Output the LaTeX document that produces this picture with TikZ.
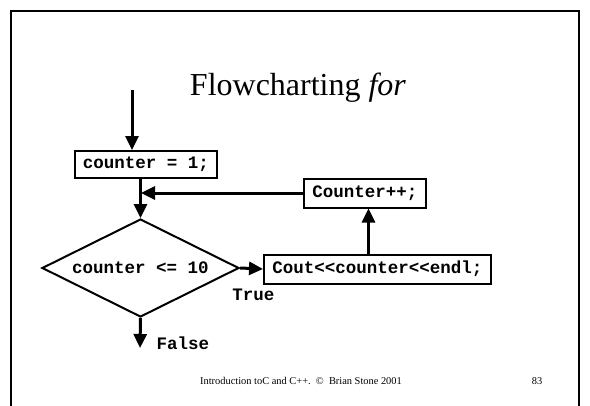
\documentclass[tikz,border=0pt]{standalone}
\usepackage{fontspec}
\setmainfont{Liberation Serif}
\newfontfamily\codefont{Liberation Mono}
\usetikzlibrary{arrows.meta,shapes.geometric}
\tikzset{
  codetext/.style={font=\codefont\bfseries\fontsize{17.5}{20}\selectfont},
  stmt/.style={draw, line width=2pt, codetext, inner sep=0pt, minimum height=29pt},
  decision/.style={diamond, draw, line width=2pt, codetext, inner sep=0pt,
    aspect=2, minimum width=197pt, minimum height=98pt},
  flow/.style={line width=3pt, -{Triangle[length=14pt,width=13pt]}},
  frameline/.style={line width=2pt},
}
\begin{document}
\begin{tikzpicture}[x=1pt,y=-1pt]
  \useasboundingbox (0,0) rectangle (590,405);
  % slide frame
  \draw[frameline] (11,406) -- (11,11) -- (579,11) -- (579,406);

  % title
  \node (title) at (298,88) {\fontsize{32}{36}\selectfont Flowcharting \textit{for}};

  % flowchart elements
  \node[stmt, minimum width=142pt, minimum height=27pt] (init) at (146,164.5) {counter = 1;};
  \node[decision] (test) at (140.5,268) {counter <= 10};
  \node[stmt, minimum width=227pt] (body) at (377.5,269) {Cout<<counter<<endl;};
  \node[stmt, minimum width=122pt] (incr) at (365,193) {Counter++;};

  \coordinate (start) at (132,90);
  \coordinate (join) at (141,193);
  \coordinate (exit) at (140,348);

  % connectors
  \draw[flow] (start) -- (start |- init.north);
  \draw[flow] (init.south -| test.north) -- (test.north);
  \draw[flow] (incr.west) -- (join);
  \draw[flow] (test.east) -- (body.west);
  \draw[flow] (body.north -| 368.5,0) -- (incr.south -| 368.5,0);
  \draw[flow] (test.south) -- (exit);

  % branch labels
  \node[codetext] (truelbl) at (253.5,295) {True};
  \node[codetext] (falselbl) at (183,343) {False};

  % footer
  \node[font=\fontsize{10.4}{12}\selectfont] (foot) at (301,381)
    {Introduction toC and C++.~~\textcopyright~~Brian Stone 2001};
  \node[font=\fontsize{10.4}{12}\selectfont] (page) at (537,381) {83};
\end{tikzpicture}
\end{document}
